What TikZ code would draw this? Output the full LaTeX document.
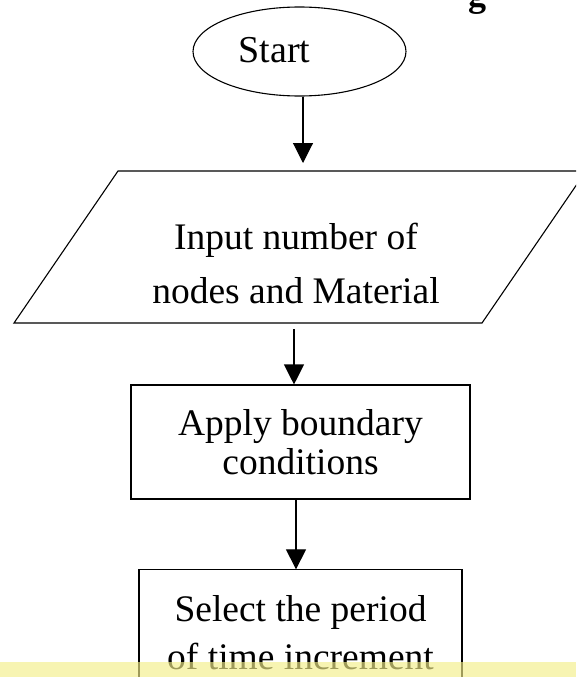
\documentclass[tikz,border=0pt]{standalone}
\usepackage{fontspec}
\setmainfont{Liberation Serif}
\usetikzlibrary{shapes.geometric,arrows.meta}
\definecolor{notebar}{RGB}{243,238,137}
\begin{document}
\begin{tikzpicture}[x=1pt, y=-1pt,
    box/.style={draw, line width=1.1pt, inner sep=0pt, align=center, font=\fontsize{37.5}{39.5}\selectfont},
    txt/.style={inner sep=0pt, align=center, font=\fontsize{37.5}{54}\selectfont},
    arr/.style={line width=1.1pt, -{Triangle[width=20pt,length=20pt]}}]
    \useasboundingbox (0,0) rectangle (576,677);
    \clip (0,0) rectangle (576,677);
    % title, only its last letter shows
    \node[inner sep=0pt, anchor=base, font=\fontsize{36}{36}\selectfont\bfseries] (title) at (477,7) {g};
    % start
    \node[draw, ellipse, line width=1.1pt, inner sep=0pt, minimum width=213pt, minimum height=89pt] (start) at (299.5,51.5) {};
    \node[inner sep=0pt, anchor=base, font=\fontsize{38}{38}\selectfont] (startlabel) at (274.5,63) {Start};
    % input
    \draw[line width=1.1pt] (118,171) -- (586,171) -- (482,323) -- (14,323) -- cycle;
    \node[txt] (input) at (296,263) {Input number of\\nodes and Material};
    \coordinate (inputtop) at (303,163);
    \coordinate (inputbot) at (294,329);
    % boundary conditions
    \node[box, minimum width=339pt, minimum height=114pt] (apply) at (300.5,442) {Apply boundary\\conditions};
    % time increment
    \node[box, font=\fontsize{37.5}{48}\selectfont, minimum width=323pt, minimum height=125pt] (select) at (300.5,632.4) {Select the period\\of time increment};
    \draw[arr] ([xshift=3.5pt]start.south) -- (inputtop);
    \draw[arr] (inputbot) -- (inputbot |- apply.north);
    \draw[arr] ([xshift=-4.5pt]apply.south) -- ([xshift=-4.5pt]apply.south |- select.north);
    % yellow band over the bottom
    \fill[notebar, fill opacity=0.65] (0,662) rectangle (576,677);
\end{tikzpicture}
\end{document}
